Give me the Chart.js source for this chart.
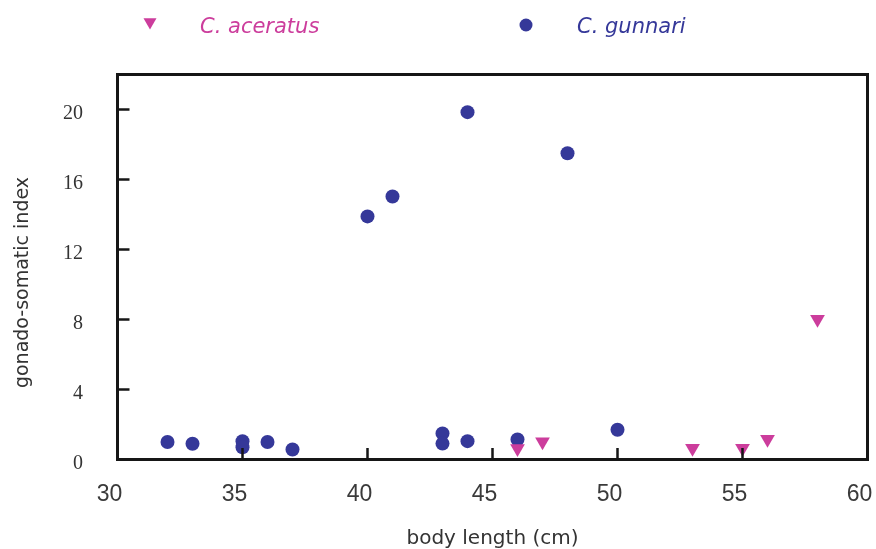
<!DOCTYPE html>
<html><head><meta charset="utf-8">
<script src="https://cdn.jsdelivr.net/npm/chart.js@4.4.1/dist/chart.umd.min.js"></script>
<style>html,body{margin:0;padding:0;background:#fff;}</style>
</head><body>
<canvas id="c" width="876" height="549"></canvas>
<script>
// ---- data ----
const seriesNames = ['C. aceratus', 'C. gunnari'];
const aceratusLength = [46, 47, 53, 55, 56, 58];
const aceratusGSI    = [0.63, 1.01, 0.65, 0.65, 1.16, 8.02];
const gunnariLength  = [32, 33, 35, 35, 36, 37, 40, 41, 43, 43, 44, 44, 46, 48, 50];
const gunnariGSI     = [1.0, 0.9, 1.05, 0.7, 1.0, 0.57, 13.89, 15.03, 1.49, 0.91, 19.85, 1.05, 1.14, 17.5, 1.7];
const xTicks = [30, 35, 40, 45, 50, 55, 60];
const yTicks = [0, 4, 8, 12, 16, 20];
const xTitle = 'body length (cm)';
const yTitle = 'gonado-somatic index';

const pink = '#CC3D9C';
const blue = '#353899';

const toPoints = (xs, ys) => xs.map((x, i) => ({x: x, y: ys[i]}));

const framePlugin = {
  id: 'frame',
  afterDatasetsDraw(chart) {
    const {ctx, chartArea: a, scales} = chart;
    ctx.save();
    ctx.strokeStyle = '#161616';
    ctx.lineWidth = 2.5;
    ctx.beginPath();
    scales.x.ticks.forEach(t => {
      if (t.value <= scales.x.min || t.value >= scales.x.max) return;
      const px = scales.x.getPixelForValue(t.value);
      ctx.moveTo(px, a.bottom); ctx.lineTo(px, a.bottom - 11.5);
    });
    scales.y.ticks.forEach(t => {
      if (t.value <= scales.y.min || t.value >= scales.y.max) return;
      const py = scales.y.getPixelForValue(t.value);
      ctx.moveTo(a.left, py); ctx.lineTo(a.left + 12, py);
    });
    ctx.stroke();
    ctx.lineWidth = 3;
    ctx.strokeRect(a.left, a.top, a.right - a.left, a.bottom - a.top);
    ctx.restore();
  },
  afterDraw(chart) {
    const ctx = chart.ctx;
    ctx.save();
    // y axis title
    ctx.translate(23, 282.5);
    ctx.rotate(-Math.PI / 2);
    ctx.font = '19px "DejaVu Sans"';
    ctx.fillStyle = '#333';
    ctx.textAlign = 'center';
    ctx.textBaseline = 'middle';
    ctx.fillText(yTitle, 0, 0);
    ctx.restore();
    // legend
    const ds = chart.data.datasets;
    const items = [
      {x: 150, y: 22, text: 200, ds: ds[0]},
      {x: 526, y: 25, text: 577, ds: ds[1]}
    ];
    items.forEach(it => {
      ctx.save();
      ctx.fillStyle = it.ds.backgroundColor;
      Chart.helpers.drawPoint(ctx, {pointStyle: it.ds.pointStyle, rotation: it.ds.rotation || 0,
        radius: it.ds.pointStyle === 'circle' ? 6.5 : 7.5, borderWidth: 0}, it.x, it.y);
      ctx.font = 'italic 21px "DejaVu Sans"';
      ctx.textAlign = 'left';
      ctx.textBaseline = 'alphabetic';
      ctx.fillText(it.ds.label, it.text, 32.5);
      ctx.restore();
    });
  }
};

new Chart(document.getElementById('c'), {
  type: 'scatter',
  data: {
    datasets: [
      {label: seriesNames[0], data: toPoints(aceratusLength, aceratusGSI),
       pointStyle: 'triangle', rotation: 180, pointRadius: 8.5, pointBorderWidth: 0,
       backgroundColor: pink, borderColor: pink, pointBackgroundColor: pink},
      {label: seriesNames[1], data: toPoints(gunnariLength, gunnariGSI),
       pointStyle: 'circle', pointRadius: 7, pointBorderWidth: 0,
       backgroundColor: blue, borderColor: blue, pointBackgroundColor: blue}
    ]
  },
  options: {
    responsive: false,
    animation: false,
    events: [],
    devicePixelRatio: 1,
    layout: {padding: {top: 74.5, right: 7, left: 0, bottom: 0}},
    plugins: {legend: {display: false}, tooltip: {enabled: false}},
    scales: {
      x: {
        type: 'linear', position: 'bottom', min: 30, max: 60,
        afterBuildTicks: s => { s.ticks = xTicks.map(v => ({value: v})); },
        afterFit: s => { s.height = 89.5; s.paddingLeft = 0; s.paddingRight = 0; },
        grid: {display: false, drawTicks: false},
        border: {display: false},
        ticks: {font: {family: '"Liberation Sans"', size: 23}, color: '#3a3a3a', padding: 21, labelOffset: -8, maxRotation: 0, autoSkip: false},
        title: {display: true, text: xTitle, color: '#333', font: {family: '"DejaVu Sans"', size: 20, lineHeight: 1}, padding: 0}
      },
      y: {
        type: 'linear', position: 'left', min: 0, max: 22,
        afterBuildTicks: s => { s.ticks = yTicks.map(v => ({value: v})); },
        afterFit: s => { s.width = 117.5; s.paddingTop = 0; s.paddingBottom = 0; },
        grid: {display: false, drawTicks: false},
        border: {display: false},
        ticks: {font: {family: '"Liberation Serif"', size: 20}, color: '#333', padding: 34.5, labelOffset: 4.5, autoSkip: false},
        title: {display: false}
      }
    }
  },
  plugins: [framePlugin]
});
</script>
</body></html>
